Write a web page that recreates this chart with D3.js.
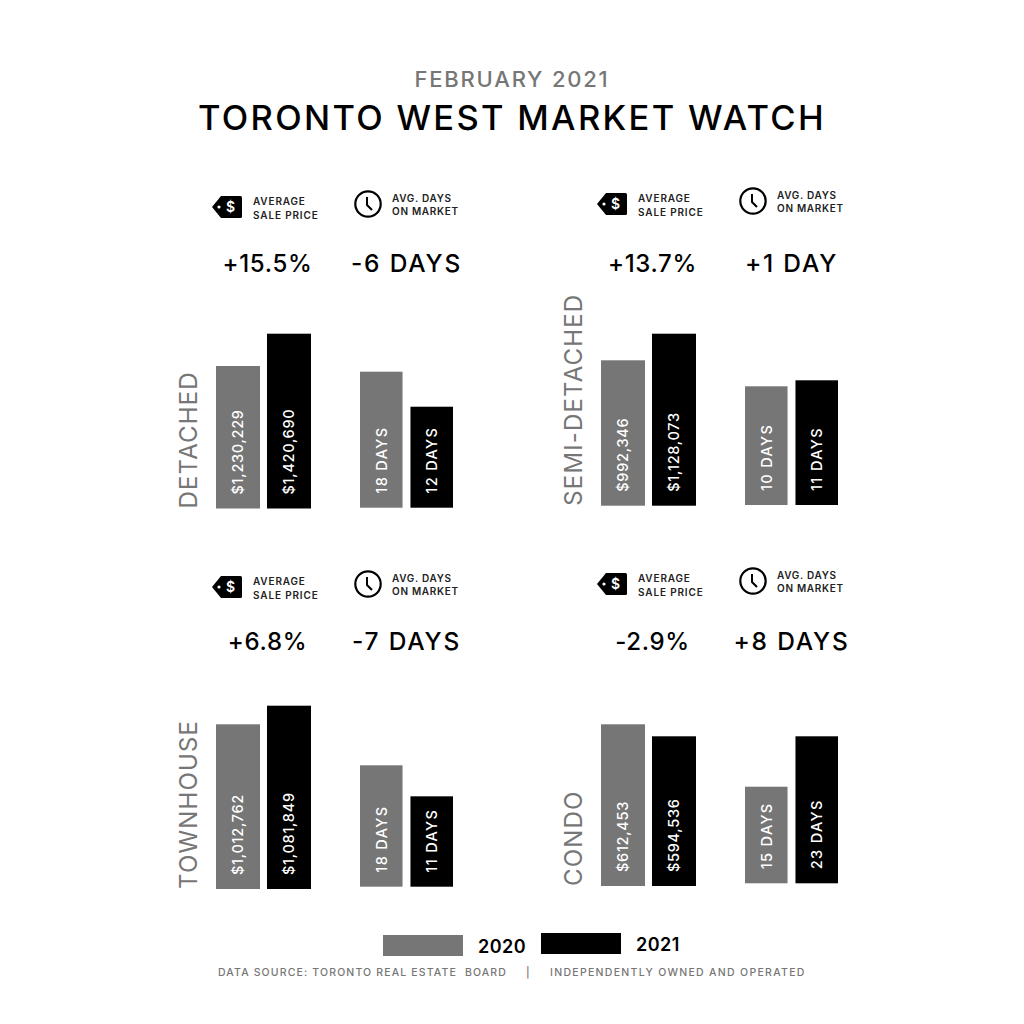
<!DOCTYPE html>
<html>
<head>
<meta charset="utf-8">
<script src="https://cdn.jsdelivr.net/npm/d3@7"></script>
<style>
  html, body { margin: 0; padding: 0; background: #fff; }
  text { font-family: Inter, "Noto Sans", sans-serif; }
</style>
</head>
<body>
<div id="chart"></div>
<script>
// values
const years = ["2020", "2021"];
const categories = ["DETACHED", "SEMI-DETACHED", "TOWNHOUSE", "CONDO"];
const price2020 = [1230229, 992346, 1012762, 612453];
const price2021 = [1420690, 1128073, 1081849, 594536];
const days2020 = [18, 10, 18, 15];
const days2021 = [12, 11, 11, 23];
const priceChange = ["+15.5%", "+13.7%", "+6.8%", "-2.9%"];
const daysChange = ["-6 DAYS", "+1 DAY", "-7 DAYS", "+8 DAYS"];

// the bars in the picture do not start at zero, every panel has its own floor
const priceFloor = [389900, 250500, 401000, 371000];
const daysFloor = [-5.3, -9.8, -9.4, -0.33];

const grey = "#767676";
const black = "#000";

// panel layout
const panelX = [0, 385, 0, 385];
const priceBase = [508.5, 505.7, 889, 886];
const priceTop = [333.7, 333.7, 705.7, 724.3];
const daysBase = [507.7, 505, 886.7, 883.3];
const daysTop = [371.7, 380.3, 765.3, 736.3];
const tagY = [207, 204, 587, 584];
const clockY = [204, 201, 584, 581];
const deltaY = [272, 272, 650, 650];

const svg = d3.select("#chart").append("svg")
    .attr("width", 1024)
    .attr("height", 1024);

function label(sel, x, y, str, size, weight, color, spacing) {
    return sel.append("text")
        .attr("x", x)
        .attr("y", y)
        .text(str)
        .style("font-size", size + "px")
        .style("font-weight", weight)
        .style("letter-spacing", spacing + "px")
        .attr("fill", color);
}

// header
label(svg, 512, 87, "FEBRUARY 2021", 22, 500, grey, 1.8).attr("text-anchor", "middle");
label(svg, 512, 130, "TORONTO WEST MARKET WATCH", 34.5, 500, black, 2.3).attr("text-anchor", "middle");

const xPrice = d3.scaleBand().domain(years).range([216, 311]).paddingInner(0.137);
const xDays = d3.scaleBand().domain(years).range([360, 453]).paddingInner(0.157);

function bars(g, x, y, vals, fmt, spacing) {
    const rows = years.map((yr, i) => ({ yr: yr, v: vals[i] }));
    const base = y.range()[0];

    g.selectAll(null)
        .data(rows)
        .join("rect")
        .attr("x", d => x(d.yr))
        .attr("y", d => y(d.v))
        .attr("width", x.bandwidth())
        .attr("height", d => base - y(d.v))
        .attr("fill", (d, i) => i == 0 ? grey : black);

    g.selectAll(null)
        .data(rows)
        .join("text")
        .attr("transform", d => `translate(${x(d.yr) + x.bandwidth() / 2}, ${base - 14}) rotate(-90)`)
        .attr("dy", "0.36em")
        .attr("fill", "#fff")
        .style("font-size", "14.5px")
        .style("font-weight", 500)
        .style("letter-spacing", spacing + "px")
        .text(d => fmt(d.v));
}

function tagIcon(g, y) {
    g.append("path")
        .attr("d", `M212 ${y} L221 ${y - 11} H240.5 Q242 ${y - 11} 242 ${y - 9.5} V${y + 9.5} Q242 ${y + 11} 240.5 ${y + 11} H221 Z`)
        .attr("fill", black);
    g.append("circle").attr("cx", 219).attr("cy", y).attr("r", 1.6).attr("fill", "#fff");
    label(g, 230.5, y + 5, "$", 14, 600, "#fff", 0).attr("text-anchor", "middle");
}

function clockIcon(g, y) {
    g.append("circle")
        .attr("cx", 368)
        .attr("cy", y)
        .attr("r", 12.7)
        .attr("fill", "none")
        .attr("stroke", black)
        .attr("stroke-width", 2.2);
    g.append("path")
        .attr("d", `M367 ${y - 7} V${y + 1} L372 ${y + 6}`)
        .attr("fill", "none")
        .attr("stroke", black)
        .attr("stroke-width", 2);
}

categories.forEach(function (cat, i) {
    const g = svg.append("g").attr("transform", `translate(${panelX[i]}, 0)`);

    // icons and small captions
    tagIcon(g, tagY[i]);
    clockIcon(g, clockY[i]);
    label(g, 253, tagY[i] - 2.5, "AVERAGE", 10, 600, "#222", 0.85);
    label(g, 253, tagY[i] + 11.5, "SALE PRICE", 10, 600, "#222", 0.85);
    label(g, 392, clockY[i] - 2.5, "AVG. DAYS", 10, 600, "#222", 0.7);
    label(g, 392, clockY[i] + 11, "ON MARKET", 10, 600, "#222", 0.7);

    // change figures
    label(g, 267.5, deltaY[i], priceChange[i], 24, 500, black, 0.7).attr("text-anchor", "middle");
    label(g, 406.5, deltaY[i], daysChange[i], 24.5, 500, black, 1.8).attr("text-anchor", "middle");

    // side title
    g.append("text")
        .attr("transform", `translate(196.5, ${priceBase[i]}) rotate(-90)`)
        .attr("fill", grey)
        .style("font-size", "24px")
        .style("font-weight", 400)
        .style("letter-spacing", "1.15px")
        .text(cat);

    const yPrice = d3.scaleLinear()
        .domain([priceFloor[i], d3.max([price2020[i], price2021[i]])])
        .range([priceBase[i], priceTop[i]]);
    const yDays = d3.scaleLinear()
        .domain([daysFloor[i], d3.max([days2020[i], days2021[i]])])
        .range([daysBase[i], daysTop[i]]);

    bars(g, xPrice, yPrice, [price2020[i], price2021[i]], d3.format("$,"), 0.7);
    bars(g, xDays, yDays, [days2020[i], days2021[i]], d => d + " DAYS", 1.35);
});

// legend
const legendX = d3.scalePoint().domain(years).range([383, 541]);
const legendY = [935, 933];
years.forEach(function (yr, i) {
    svg.append("rect")
        .attr("x", legendX(yr))
        .attr("y", legendY[i])
        .attr("width", 80)
        .attr("height", 21)
        .attr("fill", i == 0 ? grey : black);
    label(svg, legendX(yr) + 95, legendY[i] + 17.5, yr, 18, 600, black, 0.5);
});

// footer
label(svg, 218, 976, "DATA SOURCE: TORONTO REAL ESTATE  BOARD", 10.5, 500, grey, 1.15).style("white-space", "pre");
label(svg, 526, 976, "|", 10.5, 500, grey, 0);
label(svg, 550, 976, "INDEPENDENTLY OWNED AND OPERATED", 10.5, 500, grey, 1.3);
</script>
</body>
</html>
